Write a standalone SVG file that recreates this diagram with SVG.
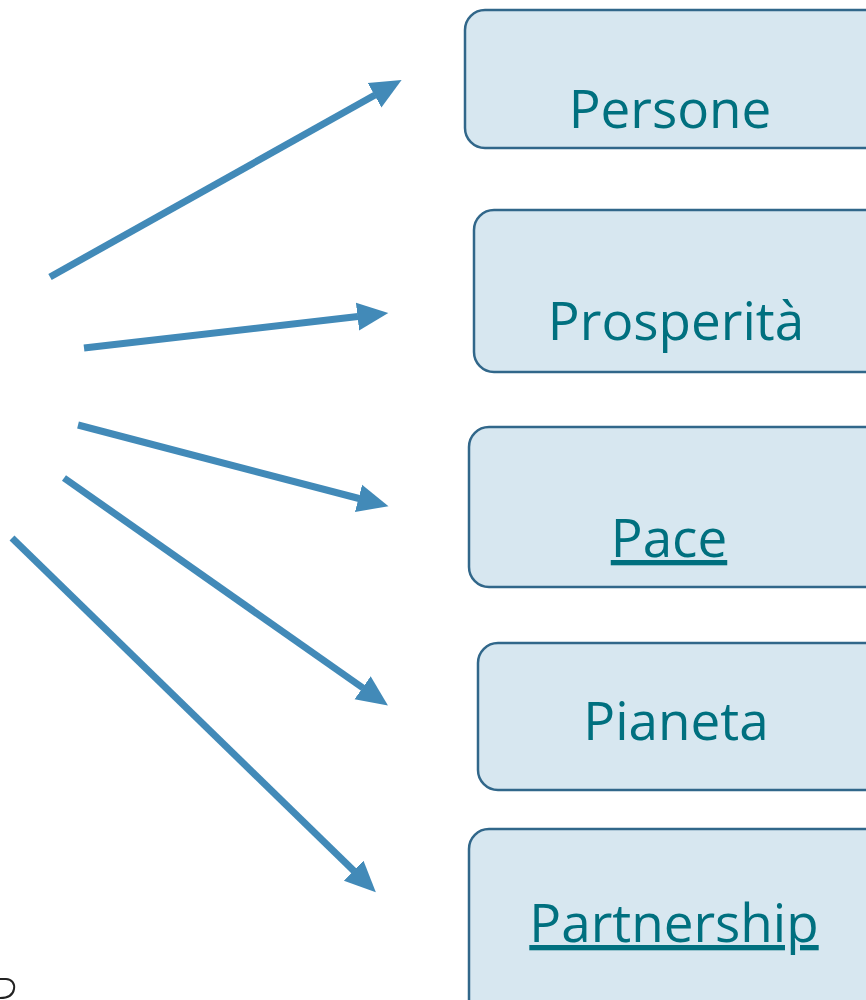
<svg xmlns="http://www.w3.org/2000/svg" width="866" height="1000" viewBox="0 0 866 1000">
<style>
.box{fill:#D7E7F0;stroke:#31678A;stroke-width:2.5}
.lbl{font-family:"Open Sans","Noto Sans",sans-serif;font-size:53px;fill:#00707F;text-anchor:middle}
.conn{stroke:#428AB8;stroke-width:7;fill:none;marker-end:url(#ah)}
</style>
<defs>
<marker id="ah" markerUnits="userSpaceOnUse" markerWidth="32" markerHeight="30" refX="0.5" refY="14" orient="auto" viewBox="0 0 32 28">
<path d="M0,0 L31,14 L0,28 Z" fill="#428AB8"/>
</marker>
</defs>
<rect width="866" height="1000" fill="#fff"/>
<g id="connectors">
<line class="conn" x1="50" y1="277" x2="375" y2="95"/>
<line class="conn" x1="84" y1="348" x2="358" y2="316.5"/>
<line class="conn" x1="78" y1="425" x2="359" y2="498.5"/>
<line class="conn" x1="64" y1="478" x2="363" y2="688"/>
<line class="conn" x1="12" y1="538" x2="354" y2="871"/>
</g>
<g id="persone">
<rect class="box" x="465" y="10" width="420" height="138" rx="20"/>
<text class="lbl" x="670" y="128">Persone</text>
</g>
<g id="prosperita">
<rect class="box" x="474" y="210" width="411" height="162" rx="20"/>
<text class="lbl" x="676" y="340">Prosperità</text>
</g>
<g id="pace">
<rect class="box" x="469" y="427" width="416" height="160" rx="20"/>
<text class="lbl" x="669" y="557" text-decoration="underline">Pace</text>
</g>
<g id="pianeta">
<rect class="box" x="478" y="643" width="407" height="147" rx="20"/>
<text class="lbl" x="676" y="740">Pianeta</text>
</g>
<g id="partnership">
<rect class="box" x="469" y="829" width="416" height="190" rx="20"/>
<text class="lbl" x="674" y="942" text-decoration="underline">Partnership</text>
</g>
<path d="M0,979 L6,979 C12,979 15,984 14,989 C13,995 8,998 0,998" fill="none" stroke="#222" stroke-width="2"/>
</svg>
